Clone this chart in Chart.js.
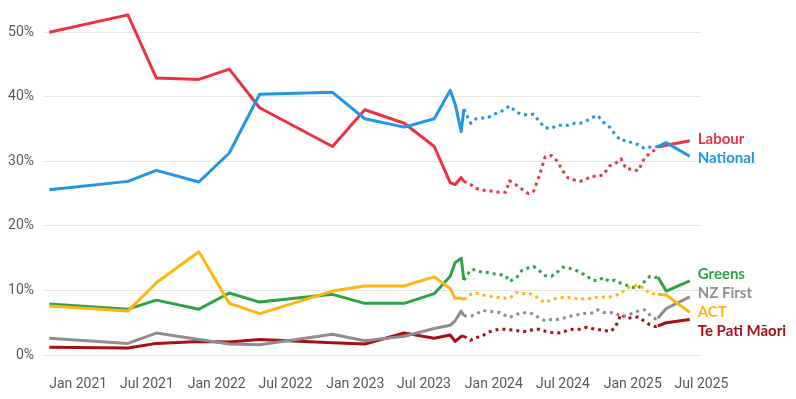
<!DOCTYPE html>
<html>
<head>
<meta charset="utf-8">
<script src="https://cdn.jsdelivr.net/npm/chart.js@4.4.1/dist/chart.umd.min.js"></script>
<style>
html,body{margin:0;padding:0;background:#ffffff;}
#wrap{width:796px;height:399px;position:relative;}
</style>
</head>
<body>
<div id="wrap"><canvas id="c"></canvas></div>
<script>
// Poll dates (shared by every party)
const dates = [
  '2020-10-17','2021-05-12','2021-07-26','2021-11-15','2022-02-03','2022-04-24','2022-11-02',
  '2023-01-26','2023-05-10','2023-07-28','2023-09-08','2023-09-21','2023-10-07',
  '2023-10-14','2023-11-01','2023-11-15','2023-12-01','2023-12-15',
  '2024-01-01','2024-01-15','2024-02-01','2024-02-11','2024-03-01','2024-03-15','2024-04-01','2024-04-15',
  '2024-05-01','2024-05-15','2024-06-01','2024-06-15','2024-07-01','2024-07-15','2024-08-01','2024-08-15',
  '2024-09-01','2024-09-15','2024-10-01','2024-10-15','2024-11-01','2024-11-15','2024-12-01','2024-12-15',
  '2025-01-01','2025-01-15','2025-02-01','2025-02-15','2025-03-01',
  '2025-03-08','2025-03-30','2025-05-31'
];

// Party support (%)
const labour = [50.0,52.7,42.9,42.7,44.3,38.3,32.3,38.0,35.9,32.3,26.7,26.4,27.5,
  26.9,26.4,25.8,25.6,25.4,25.4,25.2,25.2,27.0,26.3,25.7,25.0,25.4,28.0,30.7,30.9,30.1,28.5,27.4,27.1,26.9,
  27.3,27.7,27.7,27.9,29.3,29.6,30.4,28.8,28.8,28.5,30.5,31.3,31.8,
  32.2,32.5,33.2];
const national = [25.6,26.9,28.6,26.8,31.3,40.4,40.7,36.6,35.3,36.6,41.0,38.9,34.6,
  38.1,35.9,36.6,36.7,36.7,37.3,37.6,38.1,38.6,37.6,37.3,37.2,37.3,36.1,35.2,35.1,35.6,35.6,35.6,35.9,35.9,
  36.3,36.8,37.1,36.1,35.3,34.2,33.2,33.3,32.8,32.6,32.0,32.2,32.3,
  32.3,32.9,30.8];
const greens = [7.9,7.1,8.5,7.1,9.6,8.2,9.4,8.0,8.0,9.5,12.2,14.3,15.0,
  11.6,13.2,13.2,12.8,12.8,12.6,12.5,12.3,11.4,12.0,13.1,13.5,13.7,13.0,12.3,12.2,12.8,13.6,13.5,13.2,12.8,
  12.3,11.6,11.5,12.0,11.4,11.6,11.1,10.8,10.5,10.3,11.4,12.2,12.0,
  12.1,9.9,11.5];
const act = [7.6,6.8,11.2,16.0,8.0,6.4,9.9,10.7,10.7,12.1,10.3,8.8,8.8,
  8.6,9.4,9.6,9.3,9.2,9.0,8.9,8.8,8.8,9.7,9.5,9.6,9.3,8.6,8.1,8.6,8.8,8.9,8.9,8.8,8.6,
  8.8,8.7,9.0,9.0,9.0,9.2,9.6,10.3,10.7,10.8,10.3,9.5,9.5,
  9.4,9.3,6.6];
const nzFirst = [2.6,1.8,3.4,2.4,1.7,1.6,3.2,2.2,2.9,4.1,4.6,5.3,6.8,
  6.1,6.0,6.3,6.9,6.8,6.7,6.6,6.1,5.8,6.3,6.5,6.6,6.3,5.7,5.3,5.5,5.5,5.7,5.9,6.2,6.3,
  6.5,6.5,7.0,6.6,6.6,6.5,6.0,6.1,6.5,6.8,7.0,6.2,5.6,
  5.7,7.2,9.0];
const tePatiMaori = [1.2,1.1,1.8,2.1,2.0,2.4,1.9,1.7,3.4,2.6,3.1,2.1,2.9,
  2.9,2.3,2.7,2.9,3.5,3.8,4.0,4.0,3.9,3.8,3.6,3.7,4.0,4.0,3.7,3.5,3.4,3.5,3.9,4.0,4.0,
  4.3,4.1,3.9,3.9,3.6,4.2,6.3,5.7,5.8,5.9,5.2,4.7,4.4,
  4.5,5.0,5.5];

// Period drawn dotted
const dottedFrom = '2023-10-14';
const dottedTo = '2025-03-08';

// Axis ticks
const xTickDates = ['2021-01-01','2021-07-01','2022-01-01','2022-07-01','2023-01-01','2023-07-01',
  '2024-01-01','2024-07-01','2025-01-01','2025-07-01'];
const yTickValues = [0,10,20,30,40,50];
const monthNames = ['Jan','Feb','Mar','Apr','May','Jun','Jul','Aug','Sep','Oct','Nov','Dec'];

const parties = [
  {label:'National', values:national, color:'#2196E6'},
  {label:'Labour', values:labour, color:'#EA3340'},
  {label:'ACT', values:act, color:'#FDB50F'},
  {label:'Greens', values:greens, color:'#2EA345'},
  {label:'NZ First', values:nzFirst, color:'#8E8E8E'},
  {label:'Te Pati Māori', values:tePatiMaori, color:'#A90E15'}
];

const t = s => Date.parse(s);
const tFrom = t(dottedFrom), tTo = t(dottedTo);

const datasets = parties.map(p => ({
  label: p.label,
  data: dates.map((d,i) => ({x: t(d), y: p.values[i]})),
  borderColor: p.color,
  backgroundColor: p.color,
  borderWidth: 3,
  pointRadius: 0,
  tension: 0,
  borderJoinStyle: 'round',
  borderCapStyle: 'butt',
  fill: false,
  segment: {
    borderDash: ctx => (ctx.p0.parsed.x >= tFrom && ctx.p1.parsed.x <= tTo) ? [3, 4] : undefined
  }
}));

const endLabels = {
  id: 'endLabels',
  afterDatasetsDraw(chart) {
    const c = chart.ctx;
    const gap = 19;
    const items = chart.data.datasets.map((ds, i) => {
      const meta = chart.getDatasetMeta(i);
      const pt = meta.data[meta.data.length - 1];
      return {label: ds.label, color: ds.borderColor, x: pt.x, target: pt.y};
    }).sort((a, b) => a.target - b.target);
    let groups = items.map(it => ({items: [it]}));
    const center = g => g.items.reduce((s, it) => s + it.target, 0) / g.items.length;
    let merged = true;
    while (merged) {
      merged = false;
      for (let i = 0; i < groups.length - 1; i++) {
        const a = groups[i], b = groups[i + 1];
        const aBottom = center(a) + (a.items.length - 1) * gap / 2;
        const bTop = center(b) - (b.items.length - 1) * gap / 2;
        if (bTop - aBottom < gap) {
          groups.splice(i, 2, {items: a.items.concat(b.items)});
          merged = true;
          break;
        }
      }
    }
    c.save();
    c.font = 'bold 15px Lato';
    c.textAlign = 'left';
    c.textBaseline = 'middle';
    groups.forEach(g => {
      const cy = center(g);
      const top = cy - (g.items.length - 1) * gap / 2;
      g.items.forEach((it, k) => {
        c.fillStyle = it.color;
        c.fillText(it.label, it.x + 8, top + k * gap);
      });
    });
    c.restore();
  }
};

new Chart(document.getElementById('c'), {
  type: 'line',
  data: {datasets},
  plugins: [endLabels],
  options: {
    responsive: true,
    maintainAspectRatio: false,
    animation: false,
    layout: {padding: {left: 0, right: 94.5, top: 0, bottom: 0}},
    plugins: {legend: {display: false}, tooltip: {enabled: false}},
    scales: {
      x: {
        type: 'linear',
        min: t('2020-10-03'),
        max: t('2025-07-01'),
        grid: {display: false, drawTicks: false},
        border: {display: false},
        afterBuildTicks: s => { s.ticks = xTickDates.map(d => ({value: t(d)})); },
        afterFit: s => { s.height = 44; s.paddingLeft = 0; s.paddingRight = 0; },
        ticks: {
          autoSkip: false,
          maxRotation: 0,
          padding: 21,
          color: '#595959',
          font: {family: 'Roboto', size: 14},
          callback: v => { const d = new Date(v); return monthNames[d.getUTCMonth()] + ' ' + d.getUTCFullYear(); }
        }
      },
      y: {
        type: 'linear',
        min: 0,
        max: 55,
        grid: {color: '#e6e6e6', lineWidth: 1, drawTicks: false},
        border: {display: false},
        afterBuildTicks: s => { s.ticks = yTickValues.map(v => ({value: v})); },
        afterFit: s => { s.width = 44; s.paddingTop = 0; s.paddingBottom = 0; },
        ticks: {
          padding: 10,
          color: '#595959',
          font: {family: 'Roboto', size: 14},
          callback: v => v + '%'
        }
      }
    }
  }
});
</script>
</body>
</html>
